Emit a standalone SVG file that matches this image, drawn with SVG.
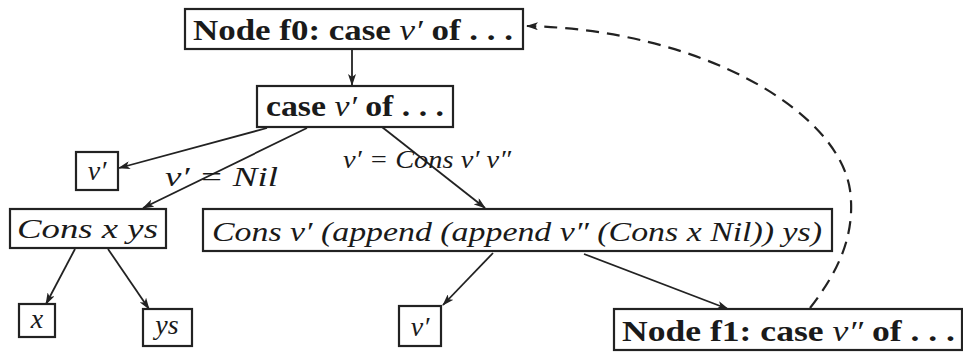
<svg xmlns="http://www.w3.org/2000/svg" width="963" height="352" viewBox="0 0 963 352">
<style>
.box{fill:#fff;stroke:#222;stroke-width:2.2}
.edge{fill:none;stroke:#222;stroke-width:1.8}
.dash{fill:none;stroke:#222;stroke-width:2.2;stroke-dasharray:13 8}
text{font-family:"Liberation Serif","DejaVu Serif",serif;fill:#1a1a1a}
.b{font-weight:bold}
.i{font-style:italic}
</style>
<defs>
<marker id="ah" viewBox="0 0 12 8" refX="11" refY="4" markerWidth="12" markerHeight="8" markerUnits="userSpaceOnUse" orient="auto">
<path d="M0,0 L12,4 L0,8 L3,4 Z" fill="#222"/>
</marker>
</defs>
<g id="connectors">
<line class="edge" x1="352" y1="49" x2="352" y2="85" marker-end="url(#ah)"/>
<line class="edge" x1="267" y1="128" x2="119" y2="168" marker-end="url(#ah)"/>
<line class="edge" x1="307" y1="128" x2="143" y2="208" marker-end="url(#ah)"/>
<line class="edge" x1="382" y1="127" x2="485" y2="208" marker-end="url(#ah)"/>
<line class="edge" x1="75" y1="249" x2="46" y2="304" marker-end="url(#ah)"/>
<line class="edge" x1="108" y1="249" x2="149" y2="309" marker-end="url(#ah)"/>
<line class="edge" x1="493" y1="253" x2="443" y2="305" marker-end="url(#ah)"/>
<line class="edge" x1="584" y1="254" x2="728" y2="309" marker-end="url(#ah)"/>
<path class="dash" d="M810,308 C838,272 856,235 850,190 C838,110 700,30 527,26" marker-end="url(#ah)"/>
<text x="165" y="186" font-size="28" class="i" textLength="113" lengthAdjust="spacingAndGlyphs">v′ = Nil</text>
<text x="343" y="168" font-size="26" class="i" textLength="168" lengthAdjust="spacingAndGlyphs">v′ = Cons v′ v″</text>
</g>
<g id="f0">
<rect class="box" x="185" y="9" width="338" height="40"/>
<text x="193" y="40" font-size="29" textLength="320" lengthAdjust="spacingAndGlyphs"><tspan class="b">Node f0: case </tspan><tspan class="i">v′</tspan><tspan class="b"> of . . .</tspan></text>
</g>
<g id="case">
<rect class="box" x="257" y="86" width="196" height="41"/>
<text x="266" y="116" font-size="29" textLength="178" lengthAdjust="spacingAndGlyphs"><tspan class="b">case </tspan><tspan class="i">v′</tspan><tspan class="b"> of . . .</tspan></text>
</g>
<g id="v1">
<rect class="box" x="76" y="152" width="42" height="38"/>
<text x="97" y="180" font-size="28" class="i" text-anchor="middle">v′</text>
</g>
<g id="consxys">
<rect class="box" x="10" y="209" width="156" height="39"/>
<text x="17" y="238" font-size="28" class="i" textLength="141" lengthAdjust="spacingAndGlyphs">Cons x ys</text>
</g>
<g id="big">
<rect class="box" x="203" y="209" width="629" height="42"/>
<text x="212" y="241" font-size="28" class="i" textLength="610" lengthAdjust="spacingAndGlyphs">Cons v′ (append (append v″ (Cons x Nil)) ys)</text>
</g>
<g id="x">
<rect class="box" x="19" y="304" width="36" height="33"/>
<text x="37" y="328" font-size="28" class="i" text-anchor="middle">x</text>
</g>
<g id="ys">
<rect class="box" x="143" y="309" width="49" height="37"/>
<text x="167" y="334" font-size="28" class="i" text-anchor="middle">ys</text>
</g>
<g id="v2">
<rect class="box" x="399" y="306" width="42" height="40"/>
<text x="420" y="336" font-size="28" class="i" text-anchor="middle">v′</text>
</g>
<g id="f1">
<rect class="box" x="614" y="309" width="348" height="41"/>
<text x="622" y="341" font-size="29" textLength="333" lengthAdjust="spacingAndGlyphs"><tspan class="b">Node f1: case </tspan><tspan class="i">v″</tspan><tspan class="b"> of . . .</tspan></text>
</g>
</svg>
